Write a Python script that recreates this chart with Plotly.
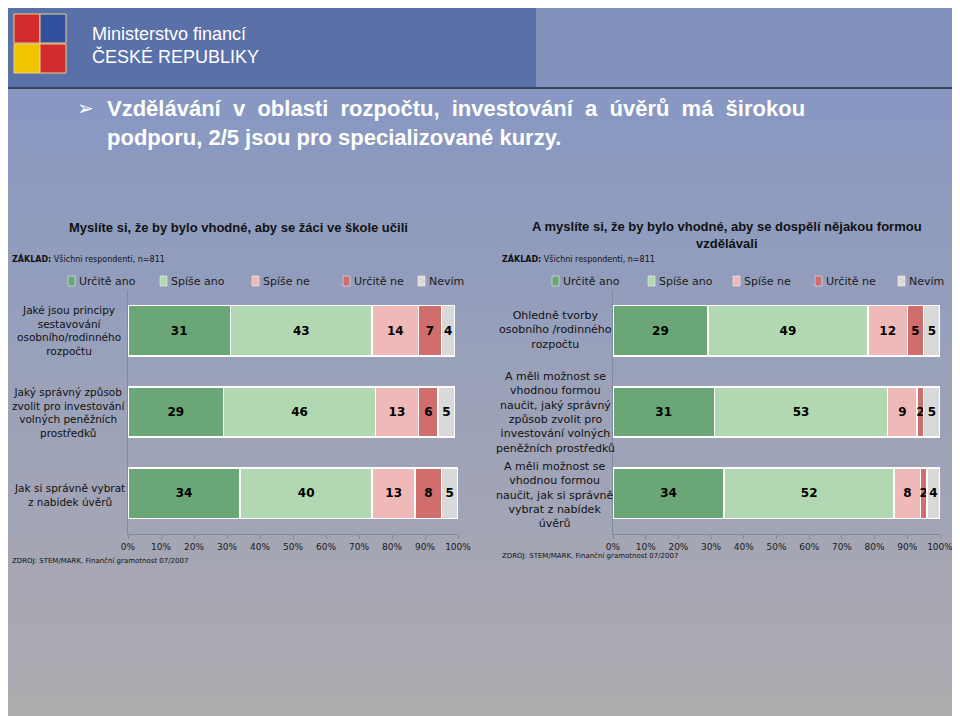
import plotly.graph_objects as go

series = ["Určitě ano", "Spíše ano", "Spíše ne", "Určitě ne", "Nevím"]
colors = ["#6aa676", "#b2d8b2", "#f0b9b9", "#d06d6d", "#d9d9d9"]
left_cats = ["Jaké jsou principy<br>sestavování<br>osobního/rodinného<br>rozpočtu",
             "Jaký správný způsob<br>zvolit pro investování<br>volných peněžních<br>prostředků",
             "Jak si správně vybrat<br>z nabídek úvěrů"]
left_vals = [[31, 29, 34], [43, 46, 40], [14, 13, 13], [7, 6, 8], [4, 5, 5]]
right_cats = ["Ohledně tvorby<br>osobního /rodinného<br>rozpočtu",
              "A měli možnost se<br>vhodnou formou<br>naučit, jaký správný<br>způsob zvolit pro<br>investování volných<br>peněžních prostředků",
              "A měli možnost se<br>vhodnou formou<br>naučit, jak si správně<br>vybrat z nabídek<br>úvěrů"]
right_vals = [[29, 31, 34], [49, 53, 52], [12, 9, 8], [5, 2, 2], [5, 5, 4]]
ticks = [0, 10, 20, 30, 40, 50, 60, 70, 80, 90, 100]

fig = go.Figure()
ids = ["a", "b", "c"]
for side, vals, xa, ya in [("L", left_vals, "x", "y"), ("R", right_vals, "x2", "y2")]:
    for i, s in enumerate(series):
        fig.add_trace(go.Bar(
            y=ids, x=vals[i], orientation="h", name=s, marker=dict(color=colors[i], line=dict(color="white", width=1.5)),
            text=vals[i], texttemplate="<b>%{text}</b>", textposition="inside", insidetextanchor="middle",
            constraintext="none", textangle=0, textfont=dict(size=12, color="black", family="DejaVu Sans"),
            xaxis=xa, yaxis=ya, showlegend=False, width=0.62, hoverinfo="skip"))

W, H = 960, 716
OFF = 8
def px(p): return (p - OFF) / W
def py(p): return 1 - (p - OFF) / H
axcommon = dict(range=[0, 100], tickvals=ticks, ticktext=[f"{t}%" for t in ticks], showgrid=False,
                zeroline=False, showline=True, linecolor="#7f8aa5", ticks="outside", ticklen=4,
                tickcolor="#7f8aa5", tickfont=dict(size=9, family="DejaVu Sans", color="#1a1a1a"), automargin=False)
yc = dict(categoryorder="array", categoryarray=ids[::-1], showticklabels=False, showline=True,
          linecolor="#7f8aa5", ticks="", showgrid=False, range=[-0.5, 2.5], automargin=False)
fig.update_layout(
    width=W, height=H, margin=dict(l=0, r=0, t=0, b=0, autoexpand=False), barmode="stack",
    paper_bgcolor="#8c9cc2", plot_bgcolor="rgba(0,0,0,0)", bargap=0.3, showlegend=False,
    xaxis=dict(domain=[px(128), px(458)], anchor="y", **axcommon),
    yaxis=dict(domain=[py(534), py(290)], anchor="x", **yc),
    xaxis2=dict(domain=[px(613), px(940)], anchor="y2", **axcommon),
    yaxis2=dict(domain=[py(534), py(290)], anchor="x2", **yc),
    font=dict(family="DejaVu Sans"),
)
shapes = []
N = 20
for k in range(N):
    y0 = 88 + k * (H - 80) / N
    shapes.append(dict(type="rect", xref="paper", yref="paper", x0=0, x1=1, y0=max(0, py(y0 + (H - 80) / N + 1)), y1=py(y0),
                       fillcolor=f"rgb({136 + k*2},{152 + k*1},{194 - k*1})", line=dict(width=0), layer="below"))
shapes.append(dict(type="rect", xref="paper", yref="paper", x0=0, x1=1, y0=py(88), y1=1,
                   fillcolor="#5a70a8", line=dict(width=0), layer="below"))
shapes.append(dict(type="rect", xref="paper", yref="paper", x0=0.55, x1=1, y0=py(88), y1=1,
                   fillcolor="#a8b4d0", opacity=0.5, line=dict(width=0), layer="below"))
shapes.append(dict(type="line", xref="paper", yref="paper", x0=0, x1=1, y0=py(88), y1=py(88),
                   line=dict(color="#3a4560", width=2)))
for (x0, y0, c) in [(14, 14, "#d22b2b"), (40, 14, "#3050a0"), (14, 44, "#f2c300"), (40, 44, "#d22b2b")]:
    shapes.append(dict(type="rect", xref="paper", yref="paper", x0=px(x0), x1=px(x0 + 26), y0=py(y0 + 29), y1=py(y0),
                       fillcolor=c, line=dict(color="#f0d080", width=1)))

ann = []
def A(x, y, t, **kw):
    d = dict(xref="paper", yref="paper", x=px(x), y=py(y), text=t, showarrow=False, xanchor="center")
    d.update(kw)
    ann.append(d)

for lx in [(68, 160, 252, 343, 418), (552, 648, 733, 815, 898)]:
    for i, s in enumerate(series):
        x0 = lx[i]
        shapes.append(dict(type="rect", xref="paper", yref="paper", x0=px(x0), x1=px(x0 + 7),
                           y0=py(286), y1=py(276), fillcolor=colors[i], line=dict(color="white", width=0.5)))
        A(x0 + 9, 281, s, xanchor="left", yanchor="middle", font=dict(size=11, color="#1a1a1a"))
fig.update_layout(shapes=shapes)

A(90, 45, "Ministerstvo financí<br>ČESKÉ REPUBLIKY", xanchor="left", yanchor="middle", align="left",
  font=dict(size=18, color="white", family="Liberation Sans Narrow, Liberation Sans"))
A(75, 108, "➢", xanchor="left", yanchor="middle", font=dict(size=20, color="white"))
A(105, 108, "<b>Vzdělávání  v  oblasti  rozpočtu,  investování  a  úvěrů  má  širokou</b>", xanchor="left", yanchor="middle",
  font=dict(size=22, color="white", family="Liberation Sans"))
A(105, 137, "<b>podporu, 2/5 jsou pro specializované kurzy.</b>", xanchor="left", yanchor="middle",
  font=dict(size=22, color="white", family="Liberation Sans"))
A(238, 227, "<b>Myslíte si, že by bylo vhodné, aby se žáci ve škole učili</b>", yanchor="middle",
  font=dict(size=13, color="#111", family="Liberation Sans"))
A(727, 235, "<b>A myslíte si, že by bylo vhodné, aby se dospělí nějakou formou<br>vzdělávali</b>", yanchor="middle",
  font=dict(size=13, color="#111", family="Liberation Sans"))
A(10, 258, "<b>ZÁKLAD:</b> Všichni respondenti, n=811", xanchor="left", yanchor="middle", font=dict(size=8, color="#111"))
A(500, 258, "<b>ZÁKLAD:</b> Všichni respondenti, n=811", xanchor="left", yanchor="middle", font=dict(size=8, color="#111"))
A(10, 561, "ZDROJ: STEM/MARK, Finanční gramotnost 07/2007", xanchor="left", yanchor="middle", font=dict(size=7, color="#111"))
A(500, 556, "ZDROJ: STEM/MARK, Finanční gramotnost 07/2007", xanchor="left", yanchor="middle", font=dict(size=7, color="#111"))
for cats, xc, fs in [(left_cats, 69, 10.5), (right_cats, 555, 11)]:
    for i, c in enumerate(cats):
        A(xc, [330, 412, 495][i], c, yanchor="middle", align="center", font=dict(size=fs, color="#111"))
fig.update_layout(annotations=ann)
fig.write_html("out.html")
